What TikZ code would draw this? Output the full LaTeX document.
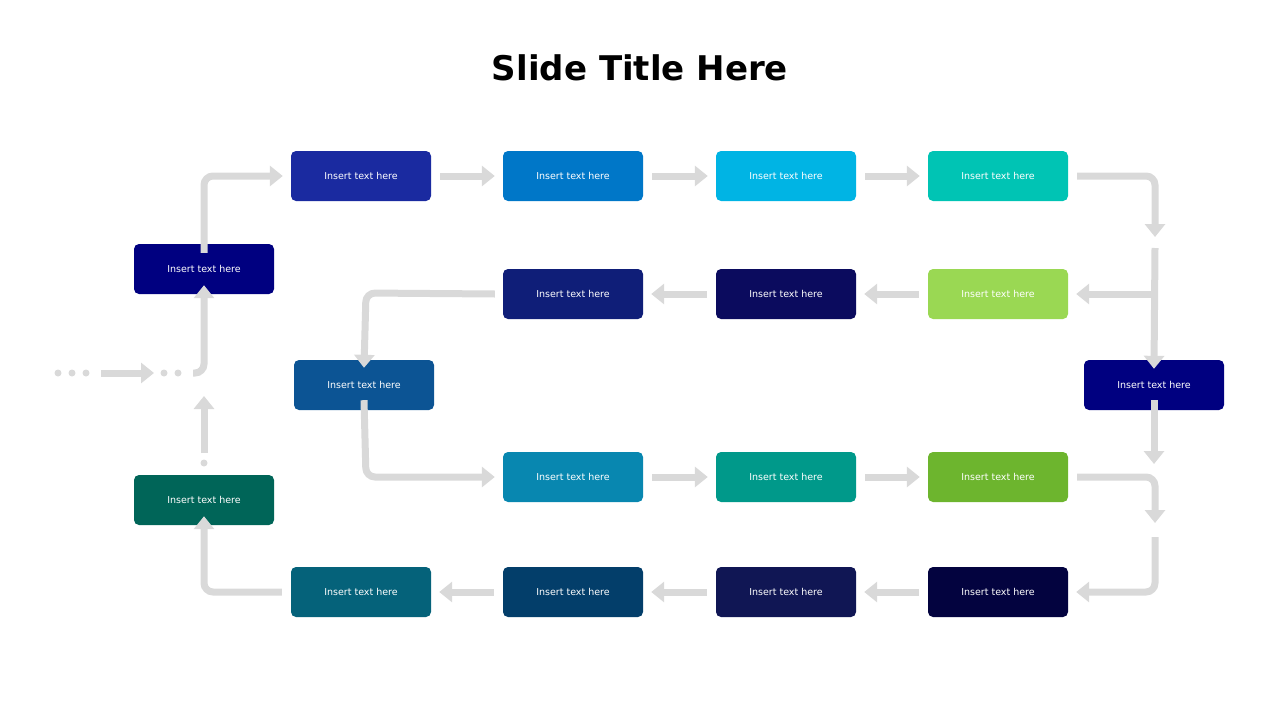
\documentclass[tikz,border=0pt]{standalone}
\usepackage{fontspec}
\setmainfont{DejaVu Sans}
\usetikzlibrary{arrows.meta}
\tikzset{
 bx/.style={rounded corners=5pt,minimum width=140pt,minimum height=50pt,inner sep=0pt,text=white,font=\fontsize{9.5}{11}\selectfont},
 ar/.style={draw=black!15,line width=7pt,rounded corners=9pt,-{Triangle[width=20pt,length=13pt]}},
 ln/.style={draw=black!15,line width=7pt,rounded corners=9pt,line cap=round},
 dt/.style={fill=black!15,circle,inner sep=0pt,minimum size=7pt}
}
\definecolor{c1}{HTML}{1A2AA0}\definecolor{c2}{HTML}{0077C8}\definecolor{c3}{HTML}{00B4E4}\definecolor{c4}{HTML}{00C4B4}
\definecolor{c5}{HTML}{0F1E78}\definecolor{c6}{HTML}{0B0B5E}\definecolor{c7}{HTML}{9AD853}
\definecolor{c8}{HTML}{000080}\definecolor{c9}{HTML}{0C5494}\definecolor{c10}{HTML}{006558}
\definecolor{c11}{HTML}{0887B0}\definecolor{c12}{HTML}{00998A}\definecolor{c13}{HTML}{6DB52E}
\definecolor{c14}{HTML}{05627A}\definecolor{c15}{HTML}{033E6A}\definecolor{c16}{HTML}{101654}\definecolor{c17}{HTML}{03033F}
\begin{document}
\begin{tikzpicture}[x=1pt,y=-1pt]
\useasboundingbox (0,0) rectangle (1280,720);
\node (title) at (640,68) {\fontsize{34}{40}\selectfont\bfseries Slide Title Here};
\def\t{Insert text here}
\node[bx,fill=c1] (a1) at (361,176) {\t};
\node[bx,fill=c2] (a2) at (573,176) {\t};
\node[bx,fill=c3] (a3) at (786,176) {\t};
\node[bx,fill=c4] (a4) at (998,176) {\t};
\node[bx,fill=c5] (b1) at (573,294) {\t};
\node[bx,fill=c6] (b2) at (786,294) {\t};
\node[bx,fill=c7] (b3) at (998,294) {\t};
\node[bx,fill=c8] (l1) at (204,269) {\t};
\node[bx,fill=c9] (m1) at (364,385) {\t};
\node[bx,fill=c10] (l2) at (204,500) {\t};
\node[bx,fill=c8] (r1) at (1154,385) {\t};
\node[bx,fill=c11] (c1n) at (573,477) {\t};
\node[bx,fill=c12] (c2n) at (786,477) {\t};
\node[bx,fill=c13] (c3n) at (998,477) {\t};
\node[bx,fill=c14] (d1) at (361,592) {\t};
\node[bx,fill=c15] (d2) at (573,592) {\t};
\node[bx,fill=c16] (d3) at (786,592) {\t};
\node[bx,fill=c17] (d4) at (998,592) {\t};
% row 1
\draw[ar] ([xshift=9pt]a1.east) -- ([xshift=-8pt]a2.west);
\draw[ar] ([xshift=9pt]a2.east) -- ([xshift=-8pt]a3.west);
\draw[ar] ([xshift=9pt]a3.east) -- ([xshift=-8pt]a4.west);
\coordinate (k1) at (1155,248);
\coordinate (k2) at (1155,294);
\draw[ar] ([xshift=9pt]a4.east) -- (1155,176) -- (1155,237);
\draw[ar] (k1) -- ([yshift=-9pt]r1.north);
\draw[ar] ([xshift=-3pt]k2) -- ([xshift=8pt]b3.east);
% row 2
\draw[ar] ([xshift=-9pt]b3.west) -- ([xshift=8pt]b2.east);
\draw[ar] ([xshift=-9pt]b2.west) -- ([xshift=8pt]b1.east);
\draw[ar] ([xshift=-8pt]b1.west) -- (366,293) -- ([yshift=-8pt]m1.north);
\draw[ar] ([yshift=10pt]m1.south) -- (366,477) -- ([xshift=-8pt]c1n.west);
% row 3
\draw[ar] ([xshift=9pt]c1n.east) -- ([xshift=-8pt]c2n.west);
\draw[ar] ([xshift=9pt]c2n.east) -- ([xshift=-8pt]c3n.west);
\draw[ar] ([yshift=10pt]r1.south) -- (1154,464);
\draw[ar] ([xshift=9pt]c3n.east) -- (1155,477) -- (1155,523);
\draw[ar] (1155,537) -- (1155,592) -- ([xshift=8pt]d4.east);
% row 4
\draw[ar] ([xshift=-9pt]d4.west) -- ([xshift=8pt]d3.east);
\draw[ar] ([xshift=-9pt]d3.west) -- ([xshift=8pt]d2.east);
\draw[ar] ([xshift=-9pt]d2.west) -- ([xshift=8pt]d1.east);
\draw[ar] ([xshift=-9pt]d1.west) -- (204,592) -- ([yshift=9pt]l2.south);
% left
\node[dt] (p0) at (204,463) {};
\draw[ar] (204,453) -- (204,396);
\foreach \x/\n in {58/q1,72/q2,86/q3,164/q4,178/q5} \node[dt] (\n) at (\x,373) {};
\draw[ar] (101,373) -- (154,373);
\draw[ar] (193,373) -- (204,373) -- ([yshift=9pt]l1.south);
\draw[ar] ([yshift=-9pt]l1.north) -- (204,176) -- ([xshift=-8pt]a1.west);
\end{tikzpicture}
\end{document}
